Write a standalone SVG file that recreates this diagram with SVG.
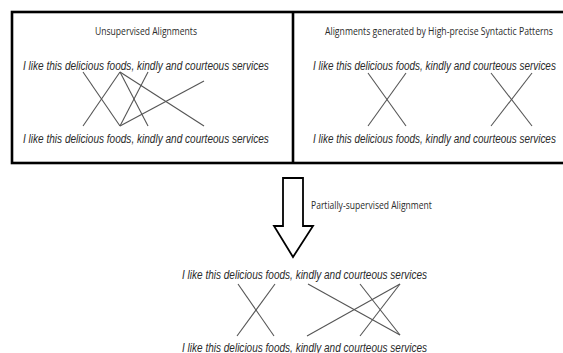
<svg xmlns="http://www.w3.org/2000/svg" width="563" height="353" viewBox="0 0 563 353">
<style>
.sent{font-family:"Liberation Sans",Arial,sans-serif;font-style:italic;font-size:13.5px;fill:#2a2a2a;}
.hdr{font-family:"Open Sans","Liberation Sans",sans-serif;font-size:11.5px;fill:#2a2a2a;}
.al{stroke:#555;stroke-width:1.1;fill:none;}
.frame{stroke:#000;stroke-width:2.6;fill:none;}
</style>
<rect width="563" height="353" fill="#fff"/>
<g id="frame">
<rect class="frame" x="12" y="12" width="570" height="151"/>
<line class="frame" x1="293" y1="12" x2="293" y2="163"/>
</g>
<g id="unsupervised">
<text class="hdr" transform="translate(95,35) scale(0.75,1)" textLength="136" lengthAdjust="spacingAndGlyphs">Unsupervised Alignments</text>
<text class="sent" transform="translate(23,70) scale(0.745,1)" textLength="330" lengthAdjust="spacingAndGlyphs">I like this delicious foods, kindly and courteous services</text>
<text class="sent" transform="translate(23,143) scale(0.745,1)" textLength="330" lengthAdjust="spacingAndGlyphs">I like this delicious foods, kindly and courteous services</text>
</g>
<g id="syntactic">
<text class="hdr" transform="translate(325,35) scale(0.75,1)" textLength="304" lengthAdjust="spacingAndGlyphs">Alignments generated by High-precise Syntactic Patterns</text>
<text class="sent" transform="translate(313,70) scale(0.745,1)" textLength="326" lengthAdjust="spacingAndGlyphs">I like this delicious foods, kindly and courteous services</text>
<text class="sent" transform="translate(313,143) scale(0.745,1)" textLength="326" lengthAdjust="spacingAndGlyphs">I like this delicious foods, kindly and courteous services</text>
</g>
<g id="arrow">
<polygon points="283,178 303,178 303,226 313,226 293,257 274,226 283,226" fill="#fff" stroke="#000" stroke-width="1.8" stroke-linejoin="miter"/>
<text class="hdr" transform="translate(311,209) scale(0.75,1)" textLength="161" lengthAdjust="spacingAndGlyphs">Partially-supervised Alignment</text>
</g>
<g id="partially">
<text class="sent" transform="translate(182,279) scale(0.745,1)" textLength="329" lengthAdjust="spacingAndGlyphs">I like this delicious foods, kindly and courteous services</text>
<text class="sent" transform="translate(182,352) scale(0.745,1)" textLength="329" lengthAdjust="spacingAndGlyphs">I like this delicious foods, kindly and courteous services</text>
</g>
<g id="connectors">
<line class="al" x1="83" y1="72" x2="120" y2="126"/>
<line class="al" x1="120" y1="72" x2="83" y2="126"/>
<line class="al" x1="120" y1="72" x2="148" y2="126"/>
<line class="al" x1="120" y1="72" x2="204" y2="126"/>
<line class="al" x1="120" y1="126" x2="148" y2="72"/>
<line class="al" x1="120" y1="126" x2="204" y2="81"/>
<line class="al" x1="368" y1="73" x2="406" y2="126"/>
<line class="al" x1="368" y1="126" x2="406" y2="73"/>
<line class="al" x1="491" y1="73" x2="532" y2="126"/>
<line class="al" x1="491" y1="126" x2="532" y2="73"/>
<line class="al" x1="238" y1="284" x2="274" y2="336"/>
<line class="al" x1="275" y1="284" x2="237" y2="336"/>
<line class="al" x1="308" y1="284" x2="400" y2="335"/>
<line class="al" x1="360" y1="284" x2="400" y2="335"/>
<line class="al" x1="307" y1="336" x2="400" y2="284"/>
<line class="al" x1="360" y1="336" x2="400" y2="284"/>
</g>
</svg>
